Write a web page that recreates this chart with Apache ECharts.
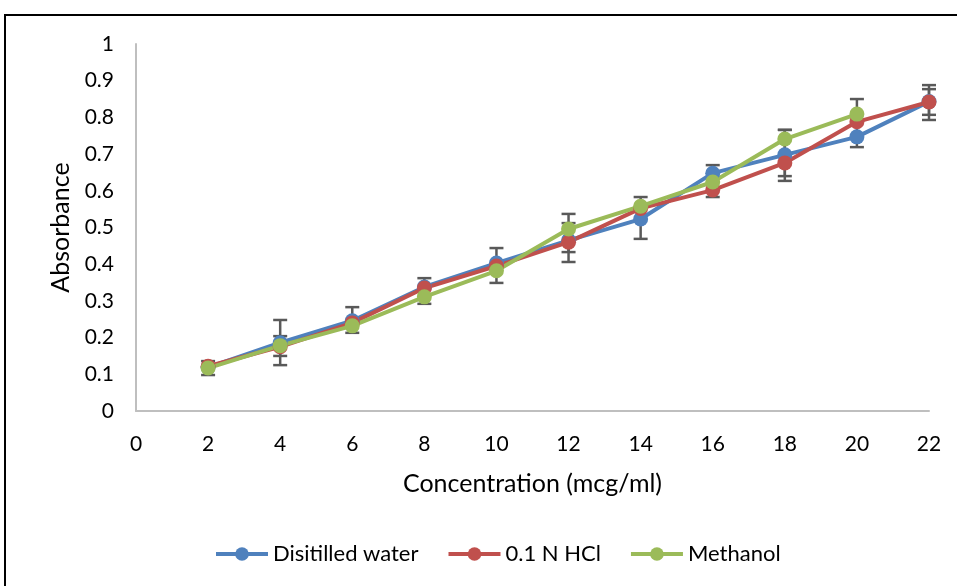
<!DOCTYPE html>
<html><head><meta charset="utf-8">
<script src="https://cdn.jsdelivr.net/npm/echarts@6/dist/echarts.min.js"></script>
<style>html,body{margin:0;padding:0;background:#fff}#c{width:957px;height:586px}</style>
</head><body><div id="c"></div>
<script>
var concentrations = [2, 4, 6, 8, 10, 12, 14, 16, 18, 20, 22];
var distilledWater = [0.119, 0.186, 0.246, 0.338, 0.403, 0.465, 0.523, 0.648, 0.698, 0.747, 0.843];
var hcl = [0.122, 0.175, 0.240, 0.335, 0.395, 0.460, 0.552, 0.602, 0.676, 0.788, 0.842];
var methanol = [0.117, 0.178, 0.232, 0.311, 0.382, 0.496, 0.558, 0.624, 0.741, 0.809];
var errX =    [2,     4,     4,     6,     8,     10,    12,    12,    14,    16,    18,    18,    20,    22,    22];
var errLow =  [0.098, 0.125, 0.150, 0.213, 0.292, 0.349, 0.433, 0.406, 0.469, 0.583, 0.627, 0.640, 0.719, 0.793, 0.807];
var errHigh = [0.136, 0.248, 0.204, 0.283, 0.362, 0.444, 0.537, 0.512, 0.583, 0.670, 0.766, 0.766, 0.850, 0.888, 0.877];
var yTicks = [0, 0.1, 0.2, 0.3, 0.4, 0.5, 0.6, 0.7, 0.8, 0.9, 1];
var seriesNames = ['Disitilled water', '0.1 N HCl', 'Methanol'];

function pairs(vals) { return vals.map(function (v, i) { return [concentrations[i], v]; }); }
var errData = errX.map(function (x, i) { return [x, errLow[i], errHigh[i]]; });

var FONT = 'Lato';
var chart = echarts.init(document.getElementById('c'));
var lineCommon = function (name, color, data) {
  return {
    name: name, type: 'line', data: pairs(data), symbol: 'circle', symbolSize: 15,
    lineStyle: { color: color, width: 4 }, itemStyle: { color: color },
    emphasis: { disabled: true }, z: 3
  };
};
chart.setOption({
  animation: false,
  graphic: [{
    type: 'rect', shape: { x: 5, y: 15, width: 980, height: 600 },
    style: { fill: 'none', stroke: '#000', lineWidth: 2 }, z: 0
  }],
  grid: { left: 136, right: 28, top: 44, bottom: 175 },
  xAxis: {
    type: 'value', min: 0, max: 22, interval: 2,
    name: 'Concentration (mcg/ml)', nameLocation: 'middle', nameGap: 60,
    nameTextStyle: { fontFamily: FONT, fontSize: 25, color: '#000' },
    axisLine: { show: true, lineStyle: { color: '#BFBFBF', width: 2 } },
    axisTick: { show: false }, splitLine: { show: false },
    axisLabel: { fontFamily: FONT, fontSize: 21, color: '#000', margin: 23 }
  },
  yAxis: {
    type: 'value', min: 0, max: 1, interval: 0.1,
    name: 'Absorbance', nameLocation: 'middle', nameGap: 61, nameRotate: 90,
    nameTextStyle: { fontFamily: FONT, fontSize: 25, color: '#000' },
    axisLine: { show: true, lineStyle: { color: '#BFBFBF', width: 2 } },
    axisTick: { show: false }, splitLine: { show: false },
    axisLabel: { fontFamily: FONT, fontSize: 21, color: '#000', margin: 22,
      formatter: function (v) { var t = yTicks.find(function (k) { return Math.abs(k - v) < 1e-9; }); return t === undefined ? '' : String(t); } }
  },
  legend: {
    bottom: 16, left: 209, itemWidth: 52, itemHeight: 17, itemGap: 28,
    data: seriesNames,
    lineStyle: { width: 4 },
    textStyle: { fontFamily: FONT, fontSize: 22, color: '#000' }
  },
  series: [
    {
      name: 'err', type: 'custom', data: errData, z: 2, silent: true,
      renderItem: function (params, api) {
        var x = api.value(0);
        var lo = api.coord([x, api.value(1)]);
        var hi = api.coord([x, api.value(2)]);
        var w = 7;
        var st = { stroke: '#595959', lineWidth: 2.5 };
        return { type: 'group', children: [
          { type: 'line', shape: { x1: lo[0], y1: lo[1], x2: hi[0], y2: hi[1] }, style: st },
          { type: 'line', shape: { x1: lo[0] - w, y1: lo[1], x2: lo[0] + w, y2: lo[1] }, style: st },
          { type: 'line', shape: { x1: hi[0] - w, y1: hi[1], x2: hi[0] + w, y2: hi[1] }, style: st }
        ] };
      }
    },
    lineCommon(seriesNames[0], '#4F81BD', distilledWater),
    lineCommon(seriesNames[1], '#C0504D', hcl),
    lineCommon(seriesNames[2], '#9BBB59', methanol)
  ]
});
</script></body></html>
